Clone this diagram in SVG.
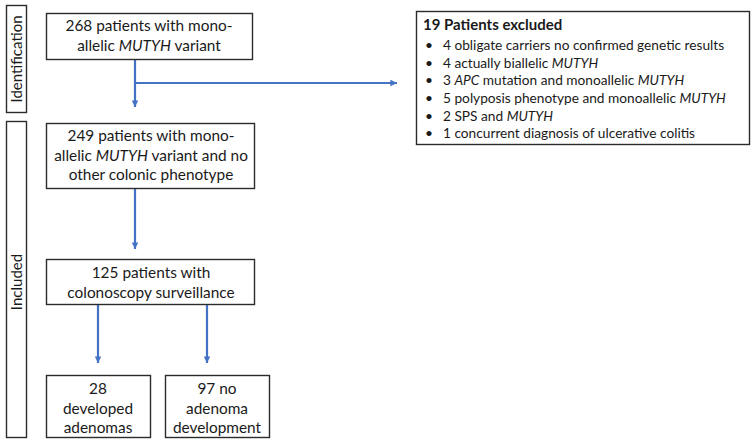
<svg xmlns="http://www.w3.org/2000/svg" width="752" height="442" viewBox="0 0 752 442">
<defs>
<marker id="ah" viewBox="0 0 10 10" refX="10" refY="5" markerWidth="3" markerHeight="3" orient="auto" markerUnits="strokeWidth">
<path d="M0,0 L10,5 L0,10 z" fill="#4472C4"/>
</marker>
</defs>
<style>
.box{fill:#fff;stroke:#2b2b2b;stroke-width:1.4}
.t{font-family:Lato,"Liberation Sans",sans-serif;font-size:15.4px;fill:#1a1a1a;text-anchor:middle}
.s{font-family:Lato,"Liberation Sans",sans-serif;font-size:15px;fill:#1a1a1a;text-anchor:middle}
.x{font-family:Lato,"Liberation Sans",sans-serif;font-size:13.7px;fill:#1a1a1a}
.b{font-weight:bold;font-size:15px}
.i{font-style:italic}
.c{fill:none;stroke:#4472C4;stroke-width:2.2}
</style>
<rect width="752" height="442" fill="#fff"/>
<g id="side-identification">
<rect class="box" x="6.5" y="5.5" width="20" height="107"/>
<text class="s" transform="translate(21.5,59) rotate(-90)">Identification</text>
</g>
<g id="side-included">
<rect class="box" x="6.5" y="121.5" width="20" height="316"/>
<text class="s" transform="translate(21.5,282) rotate(-90)">Included</text>
</g>
<g id="connectors">
<path class="c" d="M135,59 V107" marker-end="url(#ah)"/>
<path class="c" d="M135,83 H397" marker-end="url(#ah)"/>
<path class="c" d="M135,188 V249" marker-end="url(#ah)"/>
<path class="c" d="M98,305 V363" marker-end="url(#ah)"/>
<path class="c" d="M207,305 V363" marker-end="url(#ah)"/>
</g>
<g id="n1">
<rect class="box" x="46.5" y="13.5" width="206" height="46"/>
<text class="t" x="149" y="31">268 patients with mono-</text>
<text class="t" x="149" y="51">allelic <tspan class="i">MUTYH</tspan> variant</text>
</g>
<g id="n-excluded">
<rect class="box" x="416.5" y="11.5" width="333" height="133"/>
<text class="x b" x="423" y="30">19 Patients excluded</text>
<g class="x">
<text x="425" y="50">•</text><text x="443" y="50">4 obligate carriers no confirmed genetic results</text>
<text x="425" y="67.5">•</text><text x="443" y="67.5">4 actually biallelic <tspan class="i">MUTYH</tspan></text>
<text x="425" y="85">•</text><text x="443" y="85">3 <tspan class="i">APC</tspan> mutation and monoallelic <tspan class="i">MUTYH</tspan></text>
<text x="425" y="103">•</text><text x="443" y="103">5 polyposis phenotype and monoallelic  <tspan class="i">MUTYH</tspan></text>
<text x="425" y="120.5">•</text><text x="443" y="120.5">2 SPS and <tspan class="i">MUTYH</tspan></text>
<text x="425" y="138">•</text><text x="443" y="138">1 concurrent diagnosis of ulcerative colitis</text>
</g>
</g>
<g id="n2">
<rect class="box" x="46.5" y="123.5" width="208" height="65"/>
<text class="t" x="151" y="141">249 patients with mono-</text>
<text class="t" x="151" y="160.5">allelic <tspan class="i">MUTYH</tspan> variant and no</text>
<text class="t" x="151" y="180">other colonic phenotype</text>
</g>
<g id="n3">
<rect class="box" x="46.5" y="259.5" width="208" height="45"/>
<text class="t" x="151" y="278">125 patients with</text>
<text class="t" x="151" y="297.5">colonoscopy surveillance</text>
</g>
<g id="n4">
<rect class="box" x="46.5" y="375.5" width="104" height="62"/>
<text class="t" x="98" y="394">28</text>
<text class="t" x="98" y="413.5">developed</text>
<text class="t" x="98" y="433">adenomas</text>
</g>
<g id="n5">
<rect class="box" x="165.5" y="375.5" width="104" height="62"/>
<text class="t" x="217" y="394">97 no</text>
<text class="t" x="217" y="413.5">adenoma</text>
<text class="t" x="217" y="433">development</text>
</g>
</svg>
